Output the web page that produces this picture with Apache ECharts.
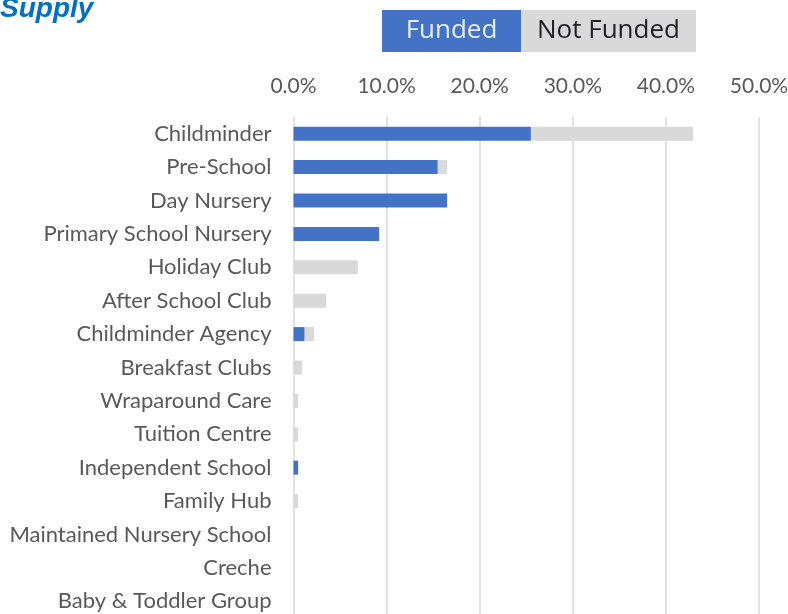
<!DOCTYPE html>
<html>
<head>
<meta charset="utf-8">
<script src="https://cdn.jsdelivr.net/npm/echarts@6/dist/echarts.min.js"></script>
<style>
  html, body { margin: 0; padding: 0; background: #fff; }
  #wrap { width: 788px; height: 614px; overflow: hidden; }
  #chart { width: 788px; height: 624px; }
</style>
</head>
<body>
<div id="wrap"><div id="chart"></div></div>
<script>
// supply by provider type, share of responses (%)
const categories = [
  'Childminder', 'Pre-School', 'Day Nursery', 'Primary School Nursery',
  'Holiday Club', 'After School Club', 'Childminder Agency', 'Breakfast Clubs',
  'Wraparound Care', 'Tuition Centre', 'Independent School', 'Family Hub',
  'Maintained Nursery School', 'Creche', 'Baby & Toddler Group'
];
const funded    = [25.5, 15.5, 16.5, 9.2, 0, 0, 1.2, 0, 0, 0, 0.5, 0, 0, 0, 0];
const notFunded = [17.4, 1.0, 0, 0, 6.9, 3.5, 1.0, 0.9, 0.5, 0.5, 0, 0.5, 0, 0, 0];
const xTicks = [0, 10, 20, 30, 40, 50];

const labelFont = 'Lato';
const grey = '#595959';

const getOption = () => {
  return {
    animation: false,
    title: {
      text: 'Supply',
      left: 0,
      top: -5,
      padding: 0,
      textStyle: {
        fontFamily: 'Liberation Sans',
        fontSize: 28,
        fontWeight: 'bold',
        fontStyle: 'italic',
        color: '#0070C0'
      }
    },
    legend: {
      left: 377,
      top: 10,
      padding: 0,
      itemWidth: 0,
      itemHeight: 0,
      itemGap: -5,
      icon: 'rect',
      data: ['Funded', 'Not Funded'],
      formatter: name => name === 'Funded' ? '{f|' + name + '}' : '{n|' + name + '}',
      textStyle: {
        rich: {
          f: {
            width: 139, height: 42, lineHeight: 42, align: 'center',
            backgroundColor: '#4472C4', color: '#E8EEF8',
            fontFamily: 'Open Sans', fontSize: 26
          },
          n: {
            width: 175, height: 42, lineHeight: 42, align: 'center',
            backgroundColor: '#D9D9D9', color: '#1E1E28',
            fontFamily: 'Open Sans', fontSize: 26
          }
        }
      }
    },
    grid: {
      left: 293.5,
      right: 29,
      top: 117,
      height: 501,
      containLabel: false,
      outerBoundsMode: 'none'
    },
    xAxis: {
      type: 'value',
      position: 'top',
      min: xTicks[0],
      max: xTicks[xTicks.length - 1],
      interval: 10,
      axisLine: { show: false },
      axisTick: { show: false },
      axisLabel: {
        margin: 20,
        color: grey,
        fontFamily: labelFont,
        fontSize: 21,
        formatter: v => v.toFixed(1) + '%'
      },
      splitLine: { lineStyle: { color: '#D9D9D9', width: 1.5 } }
    },
    yAxis: {
      type: 'category',
      inverse: true,
      data: categories,
      axisLine: { show: false },
      axisTick: { show: false },
      axisLabel: {
        margin: 22,
        color: grey,
        fontFamily: labelFont,
        fontSize: 22
      }
    },
    series: [
      {
        name: 'Funded',
        type: 'bar',
        stack: 'total',
        barWidth: 14,
        itemStyle: { color: '#4472C4' },
        data: funded
      },
      {
        name: 'Not Funded',
        type: 'bar',
        stack: 'total',
        barWidth: 14,
        itemStyle: { color: '#D9D9D9' },
        data: notFunded
      }
    ]
  };
};

window.addEventListener('load', () => {
  const chart = echarts.init(document.getElementById('chart'));
  chart.setOption(getOption());
});
</script>
</body>
</html>
